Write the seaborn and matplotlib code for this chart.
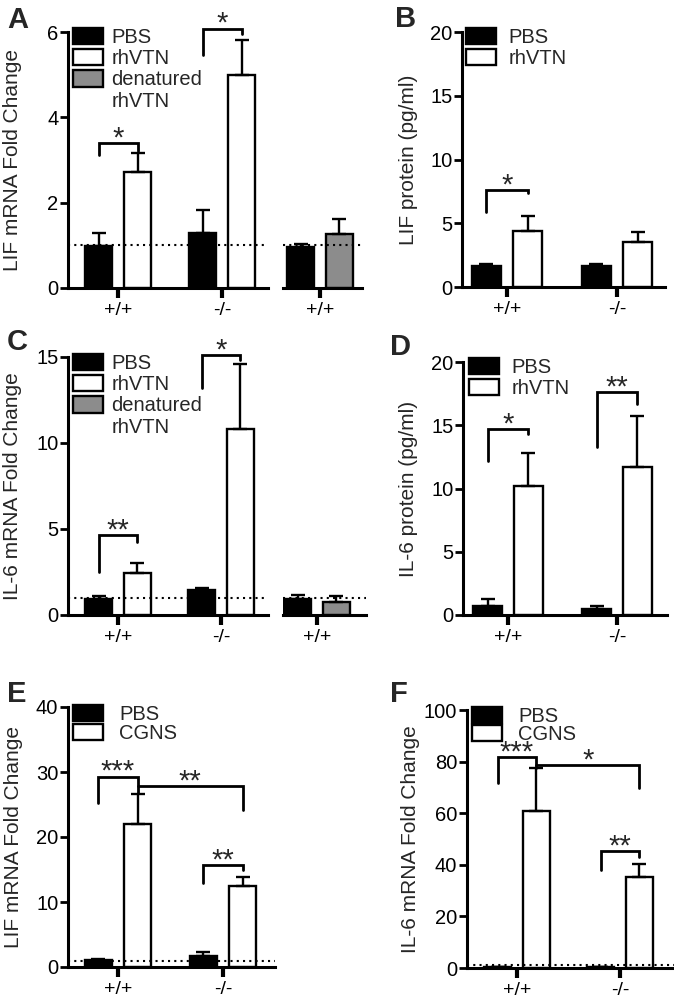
import pandas as pd
import matplotlib
matplotlib.use('Agg')
import matplotlib.pyplot as plt
import seaborn as sns
from matplotlib.patches import Patch

# ---- values (mean and upper SEM) ----
genotypes = ['+/+', '-/-']
ctrl_genotype = ['+/+']

# A: LIF mRNA fold change, PBS vs rhVTN
a_pbs = [0.98, 1.30]
a_pbs_err = [0.31, 0.52]
a_vtn = [2.73, 4.99]
a_vtn_err = [0.43, 0.83]
# A: extra +/+ group, PBS vs denatured rhVTN
a_ctrl = [0.97, 1.27]
a_ctrl_err = [0.07, 0.35]

# B: LIF protein (pg/ml)
b_pbs = [1.62, 1.62]
b_pbs_err = [0.18, 0.18]
b_vtn = [4.41, 3.52]
b_vtn_err = [1.19, 0.78]

# C: IL-6 mRNA fold change
c_pbs = [0.91, 1.46]
c_pbs_err = [0.20, 0.09]
c_vtn = [2.43, 10.8]
c_vtn_err = [0.58, 3.8]
c_ctrl = [0.91, 0.78]
c_ctrl_err = [0.26, 0.32]

# D: IL-6 protein (pg/ml)
d_pbs = [0.71, 0.45]
d_pbs_err = [0.53, 0.26]
d_vtn = [10.18, 11.7]
d_vtn_err = [2.66, 4.0]

# E: LIF mRNA fold change, PBS vs CGNS
e_pbs = [1.03, 1.65]
e_pbs_err = [0.25, 0.66]
e_cgns = [22.0, 12.5]
e_cgns_err = [4.6, 1.38]

# F: IL-6 mRNA fold change, PBS vs CGNS
f_pbs = [0.4, 0.4]
f_pbs_err = [0.1, 0.1]
f_cgns = [61.0, 35.1]
f_cgns_err = [16.4, 5.2]

# significance brackets: (bar 1, bar 2, top, left leg end, right leg end, label)
a_sig = [(('+/+', 'PBS'), ('+/+', 'rhVTN'), 3.39, 3.12, 3.20, '*'),
         (('-/-', 'PBS'), ('-/-', 'rhVTN'), 6.08, 5.46, 5.96, '*')]
b_sig = [(('+/+', 'PBS'), ('+/+', 'rhVTN'), 7.6, 5.9, 7.35, '*')]
c_sig = [(('+/+', 'PBS'), ('+/+', 'rhVTN'), 4.66, 2.52, 4.27, '**'),
         (('-/-', 'PBS'), ('-/-', 'rhVTN'), 15.1, 13.2, 14.85, '*')]
d_sig = [(('+/+', 'PBS'), ('+/+', 'rhVTN'), 14.7, 12.2, 14.3, '*'),
         (('-/-', 'PBS'), ('-/-', 'rhVTN'), 17.6, 13.3, 16.7, '**')]
e_sig = [(('+/+', 'PBS'), ('+/+', 'CGNS'), 29.3, 25.2, 26.7, '***'),
         (('+/+', 'CGNS'), ('-/-', 'CGNS'), 27.9, 27.9, 24.2, '**'),
         (('-/-', 'PBS'), ('-/-', 'CGNS'), 15.7, 12.85, 14.9, '**')]
f_sig = [(('+/+', 'PBS'), ('+/+', 'CGNS'), 81.7, 71.6, 77.5, '***'),
         (('+/+', 'CGNS'), ('-/-', 'CGNS'), 78.7, 78.7, 69.7, '*'),
         (('-/-', 'PBS'), ('-/-', 'CGNS'), 45.4, 37.8, 43.2, '**')]

GREY = '#8c8c8c'
W, H = 674, 999

sns.set_style('ticks')
plt.rcParams['font.family'] = ['Liberation Sans', 'DejaVu Sans']
plt.rcParams['axes.linewidth'] = 2.2
plt.rcParams['axes.edgecolor'] = 'black'
plt.rcParams['xtick.color'] = 'black'
plt.rcParams['ytick.color'] = 'black'

fig = plt.figure(figsize=(W / 100, H / 100), dpi=100)


def px_axes(left, top, right, bottom):
    return fig.add_axes([left / W, 1 - bottom / H, (right - left) / W, (bottom - top) / H])


def draw_bars(ax, cats, names, values, errors, colors):
    df = pd.DataFrame({
        'genotype': [c for n in names for c in cats],
        'treatment': [n for n in names for c in cats],
        'value': [v for vals in values for v in vals],
    })
    sns.barplot(data=df, x='genotype', y='value', hue='treatment', hue_order=names,
                palette=dict(zip(names, colors)), width=0.75, gap=0.3, errorbar=None,
                edgecolor='black', linewidth=1.7, legend=False, ax=ax)
    centers = {}
    for name, cont, errs in zip(names, ax.containers, errors):
        for cat, bar, e in zip(cats, cont, errs):
            x = bar.get_x() + bar.get_width() / 2
            h = bar.get_height()
            ax.errorbar(x, h, yerr=[[0], [e]], fmt='none', ecolor='black',
                        elinewidth=1.7, capsize=4.8, capthick=1.7)
            centers[(cat, name)] = x
    return centers


def style(ax, ylim, yticks, xlim, ylabel=None, label_dx=-46):
    ax.set_ylim(*ylim)
    ax.set_xlim(*xlim)
    ax.set_xlabel('')
    sns.despine(ax=ax)
    ax.tick_params(axis='x', length=7, width=3, pad=3, labelsize=14)
    if ylabel is None:
        ax.set_ylabel('')
        ax.set_yticks([])
        ax.spines['left'].set_visible(False)
    else:
        ax.set_yticks(yticks)
        ax.tick_params(axis='y', length=6, width=2, pad=1, labelsize=14.5)
        ax.set_ylabel(ylabel, fontsize=15)
        width_px = ax.get_position().width * W
        ax.yaxis.set_label_coords(label_dx / width_px, 0.5)


def brackets(ax, centers, sigs):
    for k1, k2, top, h1, h2, lab in sigs:
        x1, x2 = centers[k1], centers[k2]
        ax.plot([x1, x1, x2, x2], [h1, top, top, h2], color='black', lw=2.0,
                clip_on=False, solid_joinstyle='miter')
        ax.annotate(lab, xy=((x1 + x2) / 2, top), xytext=(0, -2.5), textcoords='offset points',
                    ha='center', va='baseline', fontsize=21, annotation_clip=False)


def legend(ax, labels, colors, dx, dy, pad, spacing=0.1):
    handles = [Patch(facecolor=c, edgecolor='black', linewidth=1.7) for c in colors]
    if len(labels) > len(colors):
        handles.append(Patch(visible=False))
    w = ax.get_position().width * W
    h = ax.get_position().height * H
    ax.legend(handles, labels, loc='upper left', bbox_to_anchor=(dx / w, 1 + dy / h),
              frameon=False, fontsize=14.5, handlelength=1.5, handleheight=0.87,
              handletextpad=pad, labelspacing=spacing, borderpad=0, borderaxespad=0)


def dotted(ax):
    ax.axhline(1, color='black', ls=(0, (1, 2)), lw=1.5, zorder=3)


# ---- A ----
axA = px_axes(68, 32, 268, 288)
cA = draw_bars(axA, genotypes, ['PBS', 'rhVTN'], [a_pbs, a_vtn], [a_pbs_err, a_vtn_err], ['black', 'white'])
style(axA, (0, 6), [0, 2, 4, 6], (-0.481, 1.442), 'LIF mRNA Fold Change', -46)
dotted(axA)
brackets(axA, cA, a_sig)
legend(axA, ['PBS', 'rhVTN', 'denatured', 'rhVTN'], ['black', 'white', GREY], 5, 4, 0.4)

axA2 = px_axes(283, 32, 362, 288)
draw_bars(axA2, ctrl_genotype, ['PBS', 'denatured rhVTN'], [[a_ctrl[0]], [a_ctrl[1]]],
          [[a_ctrl_err[0]], [a_ctrl_err[1]]], ['black', GREY])
style(axA2, (0, 6), [], (-0.356, 0.404))
dotted(axA2)

# ---- B ----
axB = px_axes(462, 32, 665, 287)
cB = draw_bars(axB, genotypes, ['PBS', 'rhVTN'], [b_pbs, b_vtn], [b_pbs_err, b_vtn_err], ['black', 'white'])
style(axB, (0, 20), [0, 5, 10, 15, 20], (-0.409, 1.436), 'LIF protein (pg/ml)', -44)
brackets(axB, cB, b_sig)
legend(axB, ['PBS', 'rhVTN'], ['black', 'white'], 4, 4, 0.6)

# ---- C ----
axC = px_axes(68, 357, 268, 615)
cC = draw_bars(axC, genotypes, ['PBS', 'rhVTN'], [c_pbs, c_vtn], [c_pbs_err, c_vtn_err], ['black', 'white'])
style(axC, (0, 15), [0, 5, 10, 15], (-0.485, 1.456), 'IL-6 mRNA Fold Change', -46)
dotted(axC)
brackets(axC, cC, c_sig)
legend(axC, ['PBS', 'rhVTN', 'denatured', 'rhVTN'], ['black', 'white', GREY], 5, 3, 0.4)

axC2 = px_axes(283, 357, 366, 615)
draw_bars(axC2, ctrl_genotype, ['PBS', 'denatured rhVTN'], [[c_ctrl[0]], [c_ctrl[1]]],
          [[c_ctrl_err[0]], [c_ctrl_err[1]]], ['black', GREY])
style(axC2, (0, 15), [], (-0.33, 0.476))
dotted(axC2)

# ---- D ----
axD = px_axes(463, 362, 667, 615)
cD = draw_bars(axD, genotypes, ['PBS', 'rhVTN'], [d_pbs, d_vtn], [d_pbs_err, d_vtn_err], ['black', 'white'])
style(axD, (0, 20), [0, 5, 10, 15, 20], (-0.413, 1.459), 'IL-6 protein (pg/ml)', -45)
brackets(axD, cD, d_sig)
legend(axD, ['PBS', 'rhVTN'], ['black', 'white'], 6, 4, 0.6)

# ---- E ----
axE = px_axes(68, 707, 275, 967)
cE = draw_bars(axE, genotypes, ['PBS', 'CGNS'], [e_pbs, e_cgns], [e_pbs_err, e_cgns_err], ['black', 'white'])
style(axE, (0, 40), [0, 10, 20, 30, 40], (-0.476, 1.495), 'LIF mRNA Fold Change', -45)
dotted(axE)
brackets(axE, cE, e_sig)
legend(axE, ['PBS', 'CGNS'], ['black', 'white'], 5, 2, 0.8, 0.0)

# ---- F ----
axF = px_axes(467, 710, 674, 968)
cF = draw_bars(axF, genotypes, ['PBS', 'CGNS'], [f_pbs, f_cgns], [f_pbs_err, f_cgns_err], ['black', 'white'])
style(axF, (0, 100), [0, 20, 40, 60, 80, 100], (-0.485, 1.524), 'IL-6 mRNA Fold Change', -47)
dotted(axF)
brackets(axF, cF, f_sig)
legend(axF, ['PBS', 'CGNS'], ['black', 'white'], 5, 3, 0.8, -0.05)

# panel letters
for letter, x, y in [('A', 7, 28), ('B', 395, 27), ('C', 7, 350),
                     ('D', 390, 355), ('E', 7, 702), ('F', 390, 702)]:
    fig.text(x / W, 1 - y / H, letter, fontsize=21, fontweight='bold', ha='left', va='baseline')

fig.savefig('out.png', dpi=100)
